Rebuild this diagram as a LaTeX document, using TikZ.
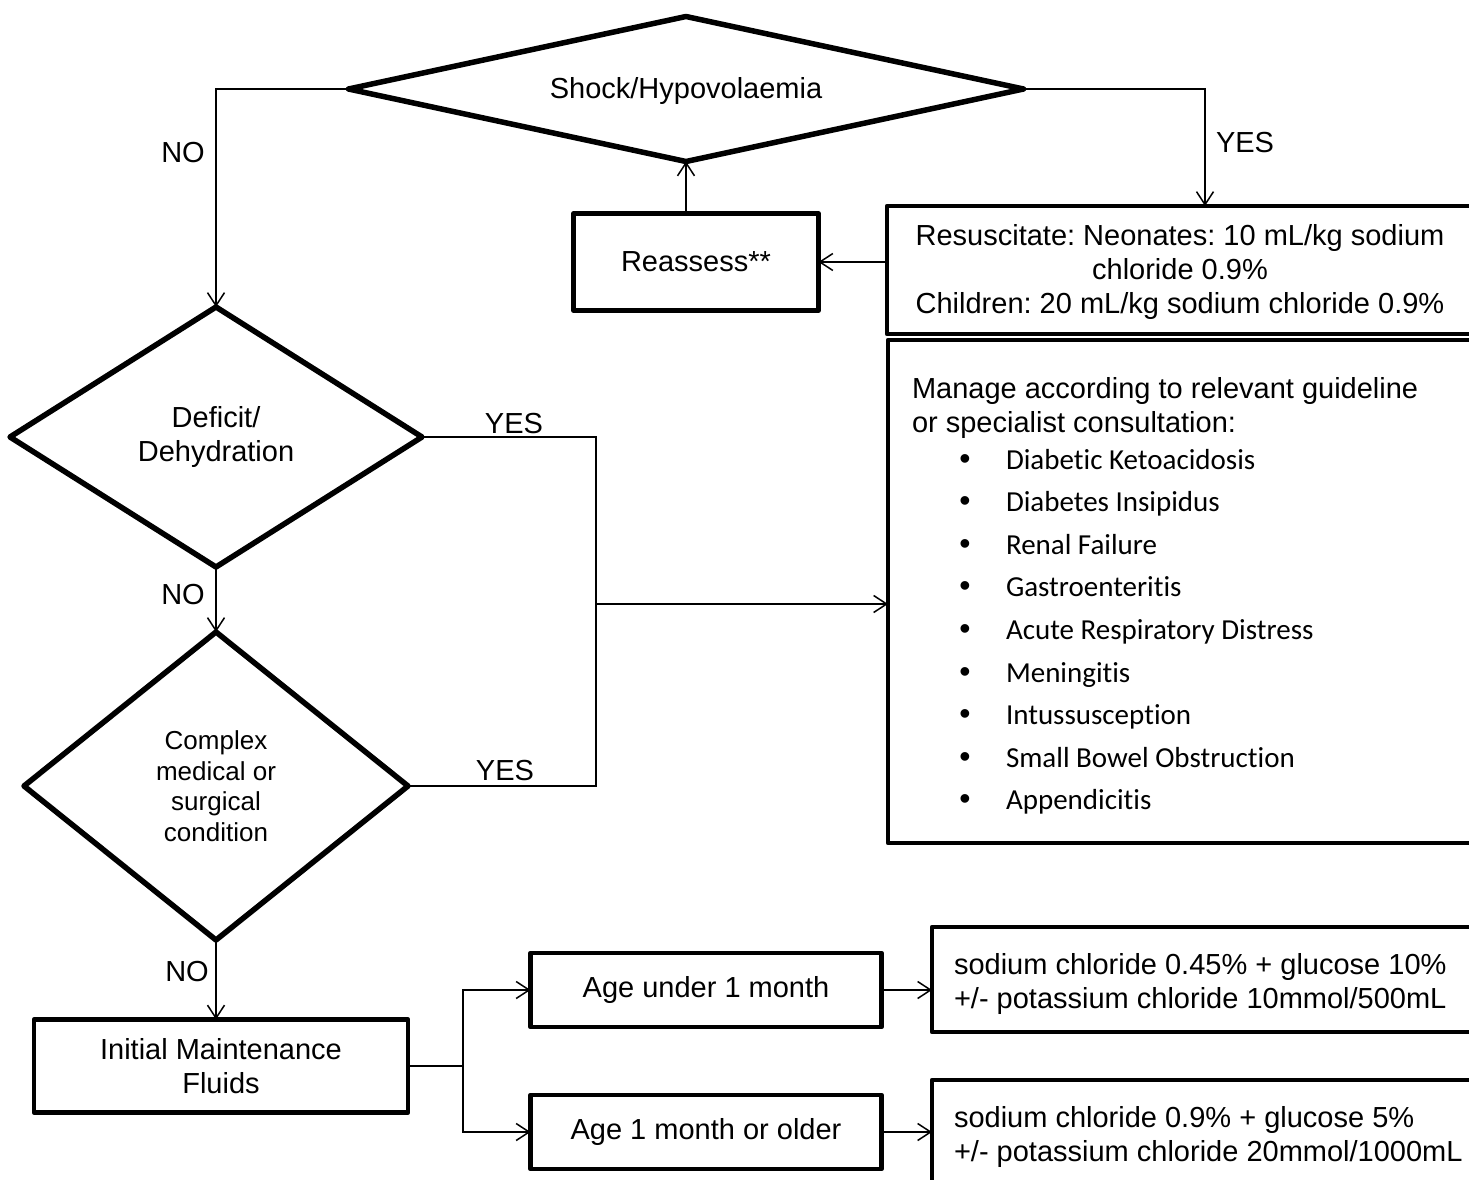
\documentclass[tikz,border=0pt]{standalone}
\usepackage{fontspec}
\setmainfont{Liberation Sans}
\newfontfamily\calfont[Ligatures=NoCommon]{Carlito}
\usetikzlibrary{shapes.geometric,arrows.meta}
\begin{document}
\frenchspacing
\begin{tikzpicture}[x=1pt,y=-1pt,
  every node/.style={font=\fontsize{29}{34}\selectfont, inner sep=0pt, outer sep=0pt},
  dec/.style={diamond, draw, line width=5.5pt, line join=round, align=center},
  box/.style={draw, line width=4.5pt, line join=round, align=center},
  conn/.style={line width=1.5pt},
  arr/.style={conn, -{Straight Barb[length=13pt,width=17pt]}},
  lbl/.style={font=\fontsize{29}{34}\selectfont},
  item/.style={anchor=west, text height=21pt, text depth=7pt, font=\calfont\fontsize{29}{34}\selectfont},
  bul/.style={text height=21pt, text depth=7pt, font=\fontsize{32}{34}\selectfont}]
\fill[white] (0,0) rectangle (1469,1180);
\clip (0,0) rectangle (1469,1180);

% decisions
\node[dec, aspect=4.655, minimum width=675pt, minimum height=145pt] (shock) at (686,89) {};
\node (shockt) at (686,91) {Shock/Hypovolaemia};
\node[dec, aspect=1.585, minimum width=412pt, minimum height=260pt] (deficit) at (216,437) {Deficit/\\Dehydration};
\node[dec, aspect=1.247, minimum width=384pt, minimum height=308pt, font=\fontsize{26}{30.5}\selectfont] (complex) at (216,786) {Complex\\medical or\\surgical\\condition};

% boxes
\node[box, minimum width=245pt, minimum height=97pt] (reass) at (696,262) {Reassess**};
\node[box, minimum width=586pt, minimum height=128pt] (resus) at (1180,270) {};
\node[align=center] (resust) at (1180,272)
  {Resuscitate: Neonates: 10 mL/kg sodium\\chloride 0.9\%\\Children: 20 mL/kg sodium chloride 0.9\%};
\node[box, minimum width=585pt, minimum height=503pt] (manage) at (1180.5,591.5) {};
\node[box, minimum width=374pt, minimum height=93pt] (init) at (221,1066) {Initial Maintenance\\Fluids};
\node[box, minimum width=351pt, minimum height=74pt] (age1) at (706,990) {Age under 1 month};
\node[box, minimum width=351pt, minimum height=74pt] (age2) at (706,1132) {Age 1 month or older};
\node[box, minimum width=541pt, minimum height=105pt] (sod1) at (1202.5,979.5) {};
\node[box, minimum width=541pt, minimum height=106pt] (sod2) at (1202.5,1133) {};

% texts in left-aligned boxes
\node[anchor=west, align=left] (sod1t) at (954,983.5) {sodium chloride 0.45\% + glucose 10\%\\+/- potassium chloride 10mmol/500mL};
\node[anchor=west, align=left] (sod2t) at (954,1137) {sodium chloride 0.9\% + glucose 5\%\\+/- potassium chloride 20mmol/1000mL};
\node[anchor=west, align=left] (managet) at (912,408) {Manage according to relevant guideline\\or specialist consultation:};

\foreach \t [count=\i from 0] in {Diabetic Ketoacidosis, Diabetes Insipidus, Renal Failure, Gastroenteritis,
  Acute Respiratory Distress, Meningitis, Intussusception, Small Bowel Obstruction, Appendicitis}{
  \node[bul] (b\i) at (965,{462+42.6*\i}) {•};
  \node[item] (it\i) at (1006,{462+42.6*\i}) {\t};
}

% helper coordinates
\coordinate (ydrop) at (1205,0);
\coordinate (jx) at (596,0);
\coordinate (mj) at (596,604);
\coordinate (bx) at (463,0);

% connectors
\draw[arr] (shock.west) -| (deficit.north);
\draw[arr] (shock.east) -| (resus.north -| ydrop);
\draw[arr] (resus.west |- reass.east) -- (reass.east);
\draw[arr] (reass.north -| shock.south) -- (shock.south);
\draw[conn] (deficit.east) -- (deficit.east -| jx) -- (complex.east -| jx) -- (complex.east);
\draw[arr] (mj) -- (mj -| manage.west);
\draw[arr] (deficit.south) -- (complex.north);
\draw[arr] (complex.south) -- (complex.south |- init.north);
\draw[conn] (init.east) -- (init.east -| bx);
\draw[arr] (init.east -| bx) |- (age1.west);
\draw[arr] (init.east -| bx) |- (age2.west);
\draw[arr] (age1.east) -- (age1.east -| sod1.west);
\draw[arr] (age2.east) -- (age2.east -| sod2.west);

% labels
\node[lbl] (no1) at (183,153) {NO};
\node[lbl] (yes1) at (1245,143) {YES};
\node[lbl] (yes2) at (514,424) {YES};
\node[lbl] (no2) at (183,595) {NO};
\node[lbl] (yes3) at (505,771) {YES};
\node[lbl] (no3) at (187,972) {NO};
\end{tikzpicture}
\end{document}
